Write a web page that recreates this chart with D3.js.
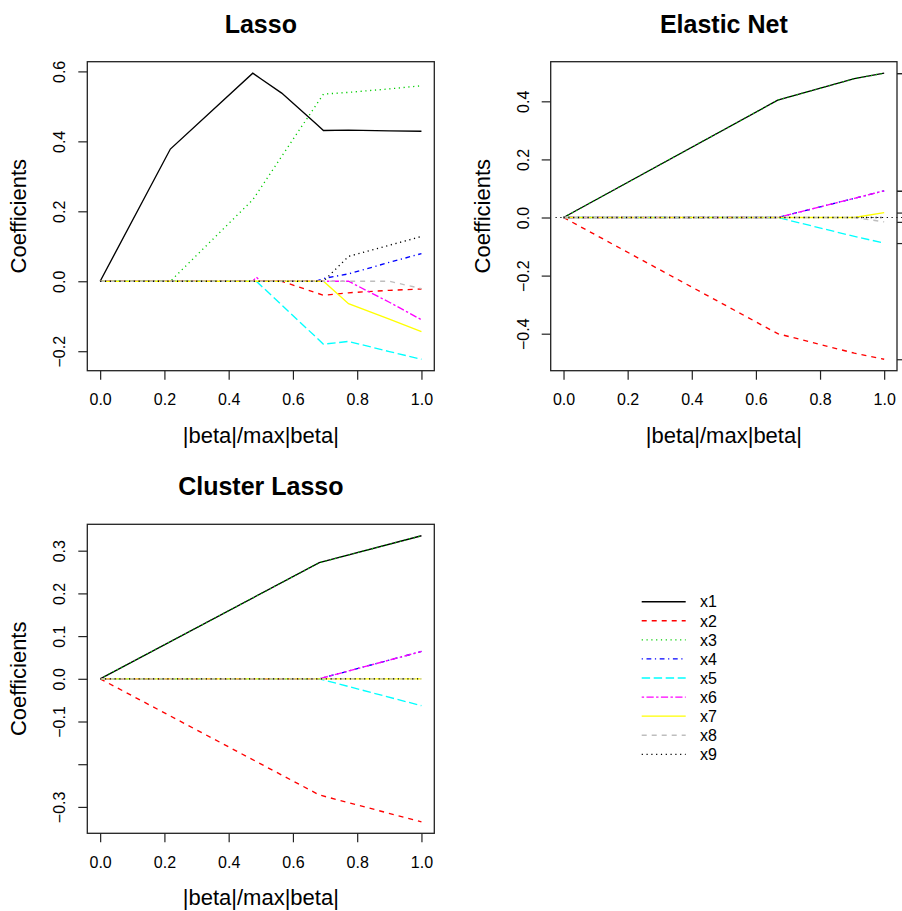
<!DOCTYPE html>
<html>
<head>
<meta charset="utf-8">
<title>Coefficient paths</title>
<script src="https://cdn.jsdelivr.net/npm/d3@7"></script>
<style>
body{margin:0;background:#fff;}
svg text{font-family:"Liberation Sans",Arial,Helvetica,sans-serif;fill:#000;}
.box{fill:none;stroke:#222;stroke-width:1.3px;}
.coef{fill:none;stroke-width:1.35px;}
.tick line{stroke:#222;stroke-width:1.2px;}
</style>
</head>
<body>
<svg id="chart" width="902" height="911"></svg>
<script>
// variables and their line styles (matplot: col 1:8, lty 1:6)
var varNames = ["x1","x2","x3","x4","x5","x6","x7","x8","x9"];
var varColors = ["#000000","#FF0000","#00CD00","#0000FF","#00FFFF","#FF00FF","#FFFF00","#BEBEBE","#000000"];
var varDash = ["none","5,5","1.2,3.6","1.2,3.6,4.8,3.6","8.4,3.6","2.4,2.4,7.2,2.4","none","5,5","1.2,3.6"];

// x: |beta|/max|beta| at each step
var xTicks = [0, 0.2, 0.4, 0.6, 0.8, 1.0];

// Lasso
var lassoFrac = [0, 0.2185, 0.475, 0.486, 0.50, 0.565, 0.672, 0.695, 0.773, 0.90, 1.0];
var lassoCoefs = [
  [0, 0.378, 0.595, 0.588, 0.579, 0.538, 0.450, 0.431, 0.432, 0.430, 0.429],
  [0, 0, 0, 0, 0, 0, -0.033, -0.040, -0.033, -0.026, -0.022],
  [0, 0, 0.233, 0.248, 0.267, 0.357, 0.504, 0.535, 0.540, 0.550, 0.559],
  [0, 0, 0, 0, 0, 0, 0, 0.008, 0.021, 0.054, 0.079],
  [0, 0, 0, 0, -0.012, -0.068, -0.160, -0.180, -0.172, -0.201, -0.223],
  [0, 0, 0, 0.012, 0, 0, 0, 0, 0, -0.060, -0.110],
  [0, 0, 0, 0, 0, 0, 0, 0, -0.064, -0.108, -0.144],
  [0, 0, 0, 0, 0, 0, 0, 0, 0, 0, -0.021],
  [0, 0, 0, 0, 0, 0, 0, 0, 0.071, 0.103, 0.128]
];
var lassoYTicks = [-0.2, 0, 0.2, 0.4, 0.6];
var lassoYLabels = ["\u22120.2", "0.0", "0.2", "0.4", "0.6"];

// Elastic Net
var enetFrac = [0, 0.668, 0.907, 1.0];
var enetCoefs = [
  [0, 0.404, 0.478, 0.497],
  [0, -0.400, -0.467, -0.488],
  [0, 0.404, 0.478, 0.497],
  [0, 0, 0.066, 0.092],
  [0, 0, -0.065, -0.088],
  [0, 0, 0.066, 0.092],
  [0, 0, 0, 0.017],
  [0, 0, 0, -0.015],
  [0, 0, 0, 0]
];
var enetYTicks = [-0.4, -0.2, 0, 0.2, 0.4];
var enetYLabels = ["\u22120.4", "\u22120.2", "0.0", "0.2", "0.4"];

// Cluster Lasso
var clusFrac = [0, 0.682, 1.0];
var clusCoefs = [
  [0, 0.272, 0.335],
  [0, -0.272, -0.335],
  [0, 0.272, 0.335],
  [0, 0, 0.064],
  [0, 0, -0.063],
  [0, 0, 0.064],
  [0, 0, 0],
  [0, 0, 0],
  [0, 0, 0]
];
var clusYTicks = [-0.3, -0.2, -0.1, 0, 0.1, 0.2, 0.3];
var clusYLabels = ["\u22120.3", "", "\u22120.1", "0.0", "0.1", "0.2", "0.3"];

var panels = [
  {title: "Lasso", frac: lassoFrac, coefs: lassoCoefs, yTicks: lassoYTicks, yLabels: lassoYLabels,
   left: 87.3, right: 434.3, top: 61.7, bottom: 370.7, rightAxis: false, zeroLine: false},
  {title: "Elastic Net", frac: enetFrac, coefs: enetCoefs, yTicks: enetYTicks, yLabels: enetYLabels,
   left: 550.7, right: 897, top: 61.7, bottom: 370.7, rightAxis: true, zeroLine: true},
  {title: "Cluster Lasso", frac: clusFrac, coefs: clusCoefs, yTicks: clusYTicks, yLabels: clusYLabels,
   left: 87.3, right: 434.3, top: 524.3, bottom: 833.3, rightAxis: false, zeroLine: false}
];

var svg = d3.select("#chart");

// R style 4% padding on both axes
function padded(ext){
  var p = (ext[1] - ext[0]) * 0.04;
  return [ext[0] - p, ext[1] + p];
}

panels.forEach(function(p){
  var x = d3.scaleLinear().domain(padded(d3.extent(p.frac))).range([p.left, p.right]);
  var allVals = d3.merge(p.coefs);
  var y = d3.scaleLinear().domain(padded(d3.extent(allVals))).range([p.bottom, p.top]);
  var g = svg.append("g");

  if (p.zeroLine) {
    g.append("line")
      .attr("x1", x(0) - 8).attr("x2", 902)
      .attr("y1", y(0)).attr("y2", y(0))
      .attr("stroke", "#000").attr("stroke-width", 1.1)
      .attr("stroke-dasharray", "1.2,3.6");
  }

  var line = d3.line()
    .x(function(d, i){ return x(p.frac[i]); })
    .y(function(d){ return y(d); });

  p.coefs.forEach(function(vals, k){
    g.append("path")
      .datum(vals)
      .attr("class", "coef")
      .attr("d", line)
      .attr("stroke", varColors[k])
      .attr("stroke-dasharray", varDash[k]);
  });

  // bottom axis
  var xa = g.append("g")
    .attr("transform", "translate(0," + p.bottom + ")")
    .call(d3.axisBottom(x).tickValues(xTicks).tickFormat(d3.format(".1f")).tickSize(9).tickPadding(14));
  xa.select(".domain").remove();
  xa.selectAll("text").style("font-size", "16px");

  // left axis, labels parallel to axis
  var ya = g.append("g")
    .attr("transform", "translate(" + p.left + ",0)")
    .call(d3.axisLeft(y).tickValues(p.yTicks).tickFormat(function(d, i){ return p.yLabels[i]; }).tickSize(9));
  ya.select(".domain").remove();
  ya.selectAll("text")
    .attr("x", null).attr("dy", null)
    .attr("text-anchor", "middle")
    .attr("transform", "translate(-22,0) rotate(-90)")
    .style("font-size", "16px");

  if (p.rightAxis) {
    var finals = p.coefs.map(function(v){ return v[v.length - 1]; })
      .filter(function(v){ return v !== 0; });
    var ra = g.append("g")
      .attr("transform", "translate(" + p.right + ",0)")
      .call(d3.axisRight(y).tickValues(finals).tickFormat("").tickSize(9));
    ra.select(".domain").remove();
  }

  g.append("rect")
    .attr("class", "box")
    .attr("x", p.left).attr("y", p.top)
    .attr("width", p.right - p.left).attr("height", p.bottom - p.top);

  var cx = (p.left + p.right) / 2;
  g.append("text")
    .attr("x", cx).attr("y", p.top - 29)
    .attr("text-anchor", "middle")
    .style("font-size", "25px").style("font-weight", "bold")
    .text(p.title);

  g.append("text")
    .attr("x", cx).attr("y", p.bottom + 72)
    .attr("text-anchor", "middle")
    .style("font-size", "22px")
    .text("|beta|/max|beta|");

  g.append("text")
    .attr("transform", "translate(" + (p.left - 61) + "," + ((p.top + p.bottom) / 2) + ") rotate(-90)")
    .attr("text-anchor", "middle")
    .style("font-size", "22px")
    .text("Coefficients");
});

// legend
var legendY = d3.scalePoint().domain(varNames).range([601.7, 754.3]);
var leg = svg.append("g");
varNames.forEach(function(n, k){
  leg.append("line")
    .attr("x1", 641.7).attr("x2", 685.7)
    .attr("y1", legendY(n)).attr("y2", legendY(n))
    .attr("stroke", varColors[k])
    .attr("stroke-width", 1.35)
    .attr("stroke-dasharray", varDash[k]);
  leg.append("text")
    .attr("x", 700).attr("y", legendY(n))
    .attr("dy", "0.36em")
    .style("font-size", "16px")
    .text(n);
});
</script>
</body>
</html>
